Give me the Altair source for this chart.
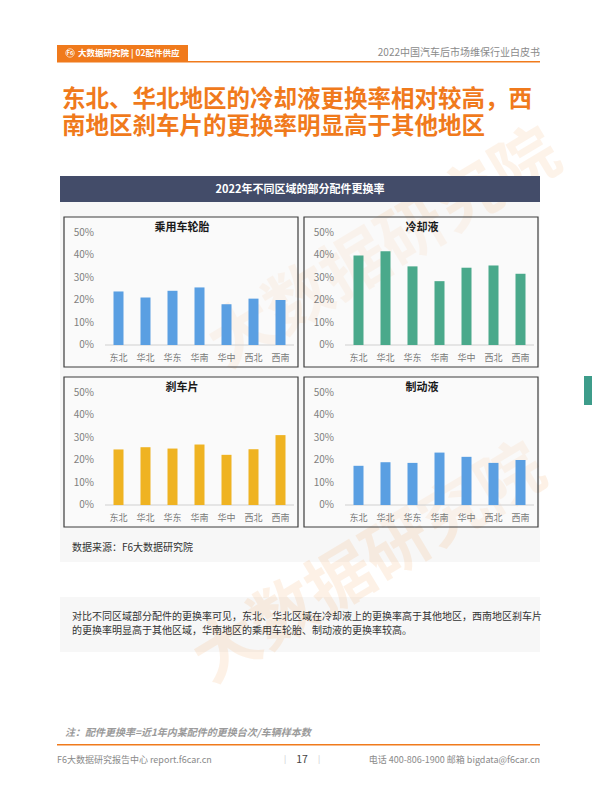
import altair as alt
import pandas as pd

# ---------------- data ----------------
REGIONS = ["东北", "华北", "华东", "华南", "华中", "西北", "西南"]
TYRE = [23.9, 21.2, 24.2, 25.7, 18.2, 20.7, 20.1]          # 乘用车轮胎
COOLANT = [40.0, 41.9, 35.1, 28.5, 34.5, 35.5, 31.8]       # 冷却液
BRAKE_PAD = [24.8, 25.8, 25.2, 27.0, 22.4, 24.9, 31.2]     # 刹车片
BRAKE_FLUID = [17.5, 19.1, 18.8, 23.4, 21.5, 18.8, 20.1]   # 制动液
PANEL_TITLES = ["乘用车轮胎", "冷却液", "刹车片", "制动液"]
Y_TICKS = [0, 10, 20, 30, 40, 50]

TITLE_LINES = ["东北、华北地区的冷却液更换率相对较高，西", "南地区刹车片的更换率明显高于其他地区"]
HEADER_RIGHT = "2022中国汽车后市场维保行业白皮书"
TAB_TEXT = "大数据研究院  |  02配件供应"
CHART_TITLE = "2022年不同区域的部分配件更换率"
SOURCE = "数据来源：F6大数据研究院"
SUMMARY = ["对比不同区域部分配件的更换率可见，东北、华北区域在冷却液上的更换率高于其他地区，西南地区刹车片",
           "的更换率明显高于其他区域，华南地区的乘用车轮胎、制动液的更换率较高。"]
NOTE = "注：配件更换率=近1年内某配件的更换台次/车辆样本数"
FOOT_LEFT = "F6大数据研究报告中心 report.f6car.cn"
FOOT_RIGHT = "电话 400-806-1900  邮箱 bigdata@f6car.cn"
PAGE_NO = "17"
WATERMARK = "大数据研究院"

# ---------------- style ----------------
FONT = "Noto Sans CJK SC"
ORANGE = "#f07a1c"
BLUE = "#5a9fe2"
TEAL = "#4aa98b"
GOLD = "#efb322"
PANEL_COLORS = [BLUE, TEAL, GOLD, BLUE]
W, H = 584, 793


def px(v):
    return v - 8  # page coordinate -> chart coordinate


ONE = alt.Data(values=[{"k": 1}])


def txt(s, x, y, size, color, weight="normal", align="left", style=None, angle=None, opacity=None):
    kw = dict(text=s, fontSize=size, color=color, fontWeight=weight, align=align,
              baseline="middle", font=FONT)
    if style:
        kw["fontStyle"] = style
    if angle is not None:
        kw["angle"] = angle
    if opacity is not None:
        kw["opacity"] = opacity
    return alt.Chart(ONE).mark_text(**kw).encode(x=alt.value(px(x)), y=alt.value(px(y)))


def rect(x0, y0, x1, y1, **kw):
    return alt.Chart(ONE).mark_rect(**kw).encode(
        x=alt.value(px(x0)), x2=alt.value(px(x1)), y=alt.value(px(y0)), y2=alt.value(px(y1)))


layers = []

# background boxes
layers.append(rect(60, 202, 540, 562, color="#f7f7f7"))
layers.append(rect(60, 597, 540, 652, color="#f7f7f7"))

# watermarks
layers.append(txt(WATERMARK, 385, 250, 66, "#f6a75e", weight="bold", align="center", angle=329, opacity=0.13))
layers.append(txt(WATERMARK, 370, 565, 66, "#f6a75e", weight="bold", align="center", angle=329, opacity=0.15))

# header
layers.append(rect(57, 45, 188, 61, color=ORANGE))
layers.append(rect(57, 61, 540, 62.5, color=ORANGE))
layers.append(alt.Chart(ONE).mark_point(shape="circle", filled=False, color="white", size=70, strokeWidth=1)
              .encode(x=alt.value(px(70)), y=alt.value(px(53))))
layers.append(txt("F6", 70, 53, 5.5, "white", weight="bold", align="center"))
layers.append(txt(TAB_TEXT, 78, 53, 8.5, "white", weight="bold"))
layers.append(txt(HEADER_RIGHT, 540, 53, 10, "#8a8a8a", align="right"))

# big title
layers.append(txt(TITLE_LINES[0], 62, 99.5, 23.5, ORANGE, weight="bold"))
layers.append(txt(TITLE_LINES[1], 62, 127, 23.5, ORANGE, weight="bold"))

# chart title bar
layers.append(rect(60, 176, 540, 202, color="#434c69"))
layers.append(txt(CHART_TITLE, 300, 189.5, 11, "white", weight="bold", align="center"))

# panels
SERIES = [TYRE, COOLANT, BRAKE_PAD, BRAKE_FLUID]
ORIGINS = [(64, 217), (304, 217), (64, 377), (304, 377)]
PW, PH = 234, 150

for i, (vals, (x0, y0)) in enumerate(zip(SERIES, ORIGINS)):
    df = pd.DataFrame({"region": REGIONS, "value": vals})
    xs = alt.Scale(domain=REGIONS, range=[px(x0 + 41), px(x0 + 230)], paddingInner=0.63, paddingOuter=0.315)
    ys = alt.Scale(domain=[0, 50], range=[px(y0 + 128), px(y0 + 16)], nice=False, zero=True)

    layers.append(rect(x0, y0, x0 + PW, y0 + PH, color="white", stroke="#3c3c3c", strokeWidth=1.2,
                       fillOpacity=0.35))
    layers.append(txt(PANEL_TITLES[i], x0 + 118, y0 + 11, 11, "#1a1a1a", weight="bold", align="center"))

    # baseline axis line
    layers.append(alt.Chart(ONE).mark_rule(color="#d0d0d0", strokeWidth=1).encode(
        x=alt.value(px(x0 + 41)), x2=alt.value(px(x0 + 230)), y=alt.YDatum(0, scale=ys, axis=None)))

    # bars
    layers.append(alt.Chart(df).mark_bar(color=PANEL_COLORS[i]).encode(
        x=alt.X("region:N", sort=REGIONS, scale=xs, axis=None),
        y=alt.Y("value:Q", scale=ys, axis=None)))

    # y tick labels
    tdf = pd.DataFrame({"v": Y_TICKS, "lab": [f"{t}%" for t in Y_TICKS]})
    layers.append(alt.Chart(tdf).mark_text(font=FONT, fontSize=10, color="#808080", align="right",
                                           baseline="middle").encode(
        x=alt.value(px(x0 + 30)), y=alt.Y("v:Q", scale=ys, axis=None), text="lab:N"))

    # x category labels
    layers.append(alt.Chart(df).mark_text(font=FONT, fontSize=9, color="#7a7a7a", baseline="middle").encode(
        x=alt.X("region:N", sort=REGIONS, scale=xs, axis=None), y=alt.value(px(y0 + 141)), text="region:N"))

# source & summary
layers.append(txt(SOURCE, 72, 548, 10, "#333333"))
layers.append(txt(SUMMARY[0], 72, 617, 10, "#333333"))
layers.append(txt(SUMMARY[1], 72, 631, 10, "#333333"))

# side tab
layers.append(rect(584, 376, 600, 405, color="#3d9c8a"))

# note & footer
layers.append(txt(NOTE, 65, 733, 10, "#9a9a9a", weight="bold", style="italic"))
layers.append(rect(57, 744, 540, 745.5, color=ORANGE))
layers.append(txt(FOOT_LEFT, 57, 760, 9, "#8a8a8a"))
layers.append(txt("|", 285, 760, 8, "#c8c8c8", align="center"))
layers.append(txt(PAGE_NO, 302, 760, 10.5, "#444444", align="center"))
layers.append(txt("|", 319, 760, 8, "#c8c8c8", align="center"))
layers.append(txt(FOOT_RIGHT, 540, 760, 9, "#8a8a8a", align="right"))

chart = (alt.layer(*layers)
         .resolve_scale(x="independent", y="independent")
         .properties(width=W, height=H, padding=0, autosize=alt.AutoSizeParams(type="none"),
                     background="white")
         .configure_view(stroke=None))

chart.save("out.html", embed_options={"renderer": "svg", "actions": False})
